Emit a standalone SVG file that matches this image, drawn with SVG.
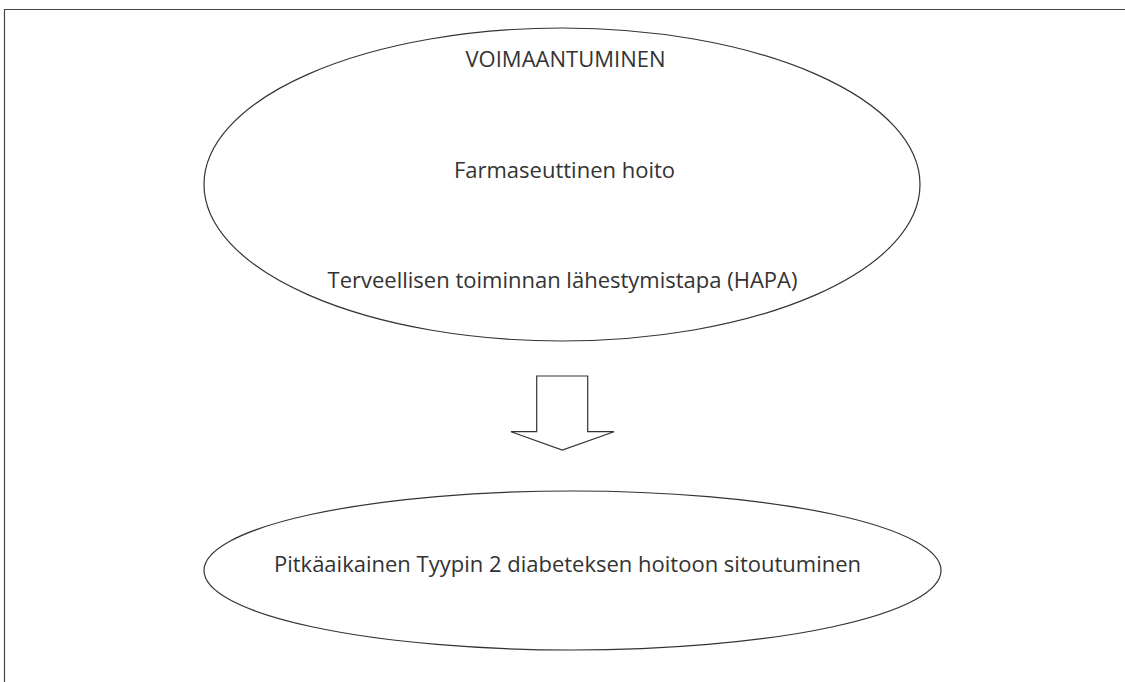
<svg xmlns="http://www.w3.org/2000/svg" width="1125" height="682" viewBox="0 0 1125 682">
<style>
.shape{fill:#fff;stroke:#333;stroke-width:1.2}
.lbl{font-family:"Open Sans","Noto Sans",sans-serif;font-size:22px;fill:#333;text-anchor:middle}
</style>
<rect x="0" y="0" width="1125" height="682" fill="#fff"/>
<path d="M4.5 700 V9.5 H1130" fill="none" stroke="#444" stroke-width="1.2"/>
<g id="empowerment">
<ellipse class="shape" cx="562" cy="184.5" rx="358" ry="156.5"/>
<text class="lbl" x="565.5" y="67">VOIMAANTUMINEN</text>
<text class="lbl" x="564.5" y="178">Farmaseuttinen hoito</text>
<text class="lbl" x="562.5" y="288">Terveellisen toiminnan lähestymistapa (HAPA)</text>
</g>
<g id="connectors">
<polygon class="shape" points="536.7,376 587.7,376 587.7,431.7 614,431.7 562.3,450 511,431.7 536.7,431.7"/>
</g>
<g id="commitment">
<ellipse class="shape" cx="572.5" cy="570.5" rx="368.5" ry="79.5"/>
<text class="lbl" x="567.5" y="572">Pitkäaikainen Tyypin 2 diabeteksen hoitoon sitoutuminen</text>
</g>
</svg>
